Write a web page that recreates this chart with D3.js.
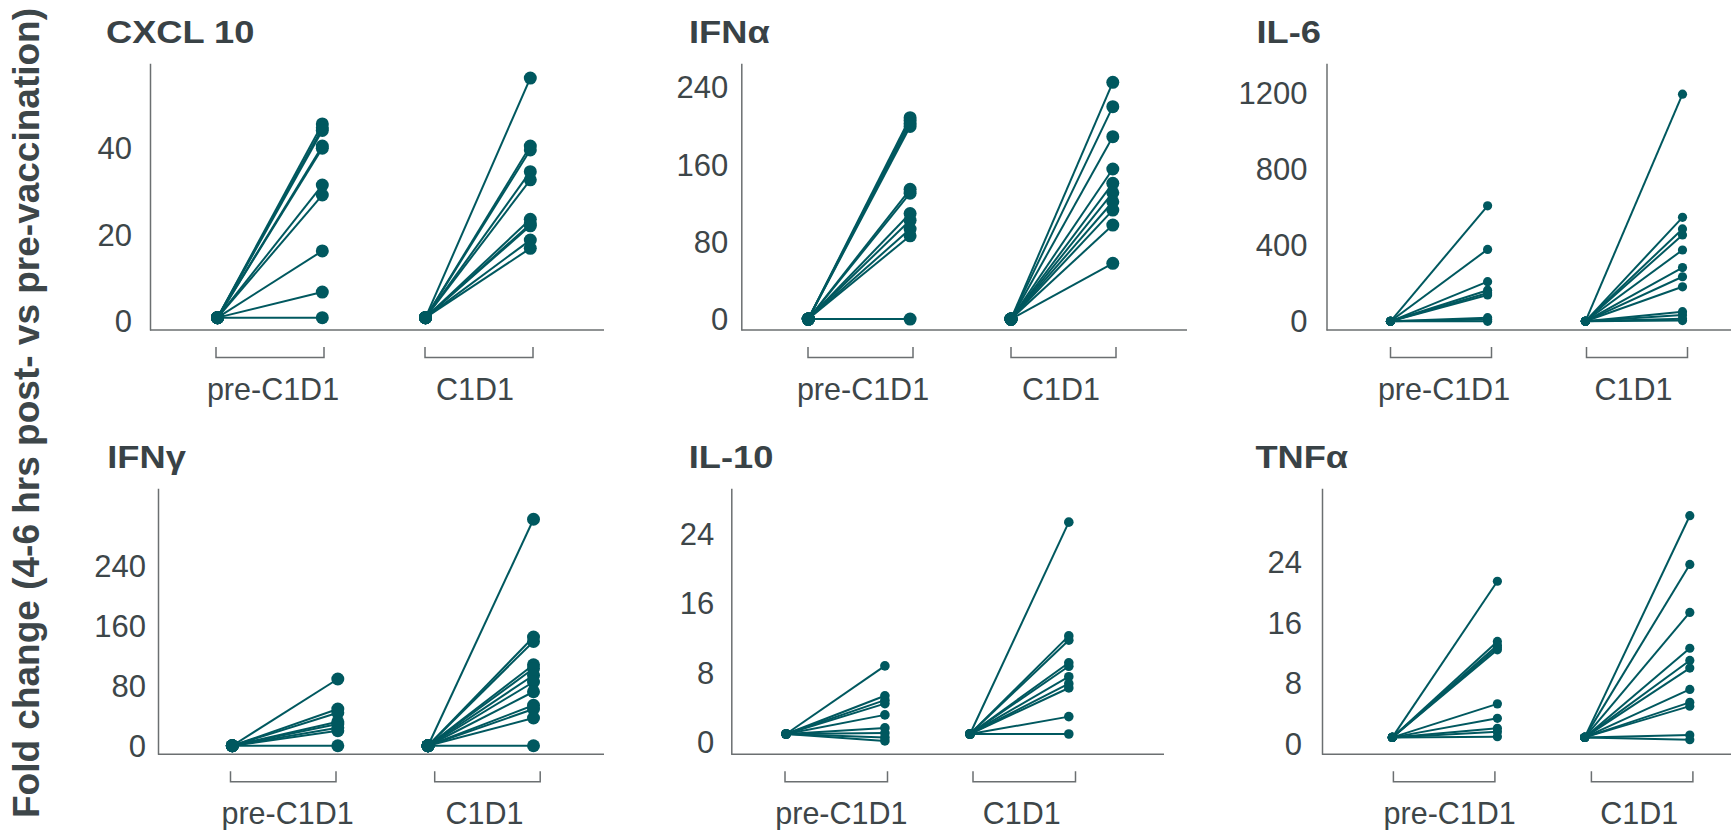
<!DOCTYPE html>
<head>
<meta charset="utf-8">
<script src="https://cdn.jsdelivr.net/npm/d3@7/dist/d3.min.js"></script>
<style>
    body { margin: 0; background: #fff; }
    text { font-family: "Liberation Sans", Arial, sans-serif; }
</style>
</head>
<body>
<div id="container"></div>
<script>
    // groups on the x axis, every subject starts at fold change 1
    var groups = ['pre-C1D1', 'C1D1'];
    var baseline = 1;

    var cxcl10Pre  = [45.7, 44.8, 44.2, 40.6, 40.1, 31.6, 29.3, 16.4, 6.9, 1];
    var cxcl10C1D1 = [56.3, 40.6, 39.7, 34.7, 32.8, 23.7, 22.6, 22.2, 18.9, 17.0];
    var cxcl10Ticks = [0, 20, 40];

    var ifnaPre  = [209, 206, 203, 200, 135, 131, 110, 103, 94, 87, 1];
    var ifnaC1D1 = [245.5, 220.4, 189.4, 156, 141.2, 131.5, 122.2, 113.6, 98.1, 58.6];
    var ifnaTicks = [0, 80, 160, 240];

    var il6Pre  = [610, 380, 210, 165, 150, 140, 20, 10, 1];
    var il6C1D1 = [1198, 549, 488, 456, 377, 284, 236, 183, 52, 34, 15, 5];
    var il6Ticks = [0, 400, 800, 1200];

    var ifngPre  = [90, 50, 45, 33, 30, 25, 21, 1];
    var ifngC1D1 = [303, 146, 140, 109, 104, 95, 86, 73, 55, 50, 38, 1];
    var ifngTicks = [0, 80, 160, 240];

    var il10Pre  = [8.84, 5.4, 4.9, 4.5, 3.2, 1.7, 1.1, 0.6, 0.2];
    var il10C1D1 = [25.4, 12.3, 11.8, 9.2, 8.8, 7.6, 6.8, 6.3, 3.0, 1.0];
    var il10Ticks = [0, 8, 16, 24];

    var tnfaPre  = [21.5, 13.6, 13.1, 12.8, 12.5, 5.4, 3.5, 2.2, 1.75, 1.1];
    var tnfaC1D1 = [30.1, 23.7, 17.4, 12.7, 11.1, 10.1, 7.3, 5.6, 5.1, 1.3, 0.7];
    var tnfaTicks = [0, 8, 16, 24];

    var panels = [
        {name: 'CXCL 10', pre: cxcl10Pre, c1d1: cxcl10C1D1, ticks: cxcl10Ticks},
        {name: 'IFNα',    pre: ifnaPre,   c1d1: ifnaC1D1,   ticks: ifnaTicks},
        {name: 'IL-6',    pre: il6Pre,    c1d1: il6C1D1,    ticks: il6Ticks},
        {name: 'IFNγ',    pre: ifngPre,   c1d1: ifngC1D1,   ticks: ifngTicks},
        {name: 'IL-10',   pre: il10Pre,   c1d1: il10C1D1,   ticks: il10Ticks},
        {name: 'TNFα',    pre: tnfaPre,   c1d1: tnfaC1D1,   ticks: tnfaTicks}
    ];

    // panel geometry (pixels), kept apart from the data
    var layout = [
        {left: 150,    right: 604,  top: 63.3,  bottom: 330,   lo: -1.85, hi: 59.7,  gap: 18, r: 6.5, g0: 217.5,  S: 208,   W: 104.8, b0: 216,    bS: 209,   bW: 108,   l0: 273,    l1: 475,    tx: 106},
        {left: 741.3,  right: 1187, top: 63.3,  bottom: 330,   lo: -10.3, hi: 265.2, gap: 13, r: 6.5, g0: 808.3,  S: 202.7, W: 101.8, b0: 808,    bS: 203,   bW: 105,   l0: 863,    l1: 1061,   tx: 689},
        {left: 1326.5, right: 1731, top: 63.3,  bottom: 330,   lo: -44.8, hi: 1361,  gap: 19, r: 4.6, g0: 1390.5, S: 194.9, W: 97.1,  b0: 1390.5, bS: 196,   bW: 101,   l0: 1444,   l1: 1633.6, tx: 1256.5},
        {left: 158,    right: 604,  top: 488.3, bottom: 754.3, lo: -10.4, hi: 344.3, gap: 12, r: 6.5, g0: 232.3,  S: 195.7, W: 105.5, b0: 230.5,  bS: 204.2, bW: 105.5, l0: 287.6,  l1: 484.6,  tx: 107.3},
        {left: 731.3,  right: 1164, top: 488.3, bottom: 754.3, lo: -1.34, hi: 29.3,  gap: 17, r: 4.8, g0: 786.1,  S: 183.9, W: 98.8,  b0: 785,    bS: 188,   bW: 102.5, l0: 841.4,  l1: 1021.8, tx: 688.8},
        {left: 1322,   right: 1731, top: 488.3, bottom: 754.3, lo: -1.22, hi: 33.7,  gap: 20, r: 4.6, g0: 1392.3, S: 192.4, W: 105.1, b0: 1393.4, bS: 198,   bW: 101.5, l0: 1449.7, l1: 1639.3, tx: 1255.4}
    ];

    var teal = '#00585f', axisColor = '#6b6f71', textColor = '#3d4649';

    var svg = d3.select('#container').append('svg').attr('width', 1731).attr('height', 830);

    // y axis title
    svg.append('text')
        .attr('transform', 'translate(38.5,413) rotate(-90)')
        .attr('text-anchor', 'middle')
        .attr('font-size', 37).attr('font-weight', 'bold').attr('fill', textColor)
        .text('Fold change (4-6 hrs post- vs pre-vaccination)');

    panels.forEach(function(p, i){
        var L = layout[i];
        var g = svg.append('g');
        var y = d3.scaleLinear().domain([L.lo, L.hi]).range([L.bottom, L.top]);
        var x = d3.scaleBand().domain(groups).range([L.g0, L.g0 + L.S + L.W]).paddingInner(1 - L.W / L.S);
        var xb = d3.scaleBand().domain(groups).range([L.b0, L.b0 + L.bS + L.bW]).paddingInner(1 - L.bW / L.bS);
        var xl = d3.scalePoint().domain(groups).range([L.l0, L.l1]);

        //标题 (the source figure is stretched sideways a bit)
        g.append('text')
            .attr('transform', 'translate(' + L.tx + ',' + (L.top - 20.5) + ') scale(1.17,1)')
            .attr('font-size', 31).attr('font-weight', 'bold').attr('fill', '#394246')
            .text(p.name);

        // y axis
        var ay = g.append('g').attr('transform', 'translate(' + L.left + ',0)')
            .call(d3.axisLeft(y).tickValues(p.ticks).tickFormat(d3.format('d')).tickSize(0).tickPadding(L.gap));
        ay.select('.domain').attr('stroke', axisColor).attr('stroke-width', 1.5);
        ay.selectAll('text').attr('font-size', 31).attr('fill', textColor)
            .attr('font-family', '"Liberation Sans", Arial, sans-serif');

        // x axis line
        g.append('line').attr('x1', L.left).attr('x2', L.right)
            .attr('y1', L.bottom).attr('y2', L.bottom)
            .attr('stroke', axisColor).attr('stroke-width', 1.5);

        // group brackets and labels
        g.selectAll('path.bracket').data(groups).enter().append('path')
            .attr('class', 'bracket')
            .attr('d', function(d){
                var a = xb(d), b = xb(d) + xb.bandwidth();
                return 'M' + a + ',' + (L.bottom + 17) + 'V' + (L.bottom + 27.5) + 'H' + b + 'V' + (L.bottom + 17);
            })
            .attr('fill', 'none').attr('stroke', axisColor).attr('stroke-width', 1.5);
        g.selectAll('text.grp').data(groups).enter().append('text')
            .attr('class', 'grp')
            .attr('x', function(d){ return xl(d); })
            .attr('y', L.bottom + 69.5)
            .attr('text-anchor', 'middle').attr('font-size', 30.5).attr('fill', textColor)
            .text(function(d){ return d; });

        // paired lines + dots
        var series = [{grp: 'pre-C1D1', vals: p.pre}, {grp: 'C1D1', vals: p.c1d1}];
        series.forEach(function(s){
            var x0 = x(s.grp), x1 = x(s.grp) + x.bandwidth();
            g.selectAll(null).data(s.vals).enter().append('line')
                .attr('x1', x0).attr('y1', y(baseline))
                .attr('x2', x1).attr('y2', function(d){ return y(d); })
                .attr('stroke', teal).attr('stroke-width', 2);
            g.selectAll(null).data(s.vals).enter().append('circle')
                .attr('cx', x0).attr('cy', y(baseline)).attr('r', L.r).attr('fill', teal);
            g.selectAll(null).data(s.vals).enter().append('circle')
                .attr('cx', x1).attr('cy', function(d){ return y(d); }).attr('r', L.r).attr('fill', teal);
        });
    });
</script>
</body>
